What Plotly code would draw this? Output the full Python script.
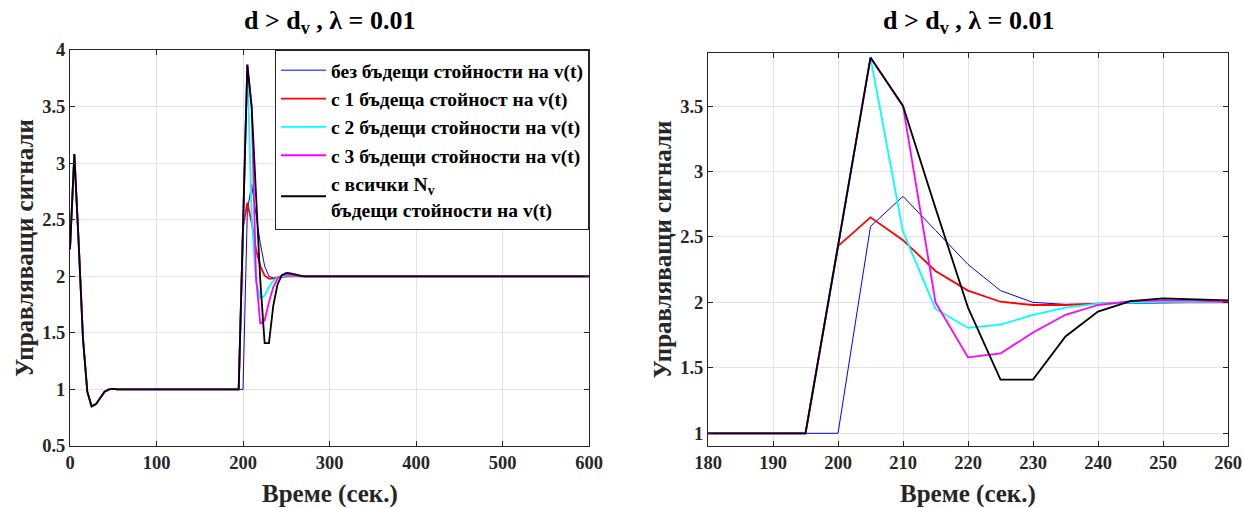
import plotly.graph_objects as go

# time (s); dense around the transients, sparse where the signals are flat
t = [0, 5, 10, 15, 20, 25, 30, 35, 40, 45, 50, 55, 60, 100, 150,
     180, 185, 190, 195, 200, 205, 210, 215, 220, 225, 230, 235, 240,
     245, 250, 255, 260, 265, 270, 280, 300, 400, 500, 600]

start = [2.24, 3.08, 2.30, 1.45, 0.98, 0.85, 0.87, 0.93, 0.98, 1.00,
         1.005, 1.00, 1.00, 1.00, 1.00, 1.00, 1.00, 1.00, 1.00]

blue_tail = [1.00, 2.58, 2.81, 2.55, 2.29, 2.09, 2.00, 1.985, 1.99, 1.99,
             2.00, 2.00, 2.00, 2.00, 2.00, 2.00, 2.00, 2.00, 2.00, 2.00]
red_tail = [2.43, 2.65, 2.475, 2.24, 2.09, 2.005, 1.98, 1.98, 1.99, 2.00,
            2.00, 2.00, 2.00, 2.00, 2.00, 2.00, 2.00, 2.00, 2.00, 2.00]
cyan_tail = [2.43, 3.87, 2.54, 1.95, 1.805, 1.83, 1.905, 1.96, 1.99, 2.00,
             2.005, 2.005, 2.00, 2.00, 2.00, 2.00, 2.00, 2.00, 2.00, 2.00]
mag_tail = [2.43, 3.87, 3.50, 2.00, 1.58, 1.61, 1.77, 1.905, 1.98, 2.01,
            2.015, 2.015, 2.005, 2.00, 2.00, 2.00, 2.00, 2.00, 2.00, 2.00]
black_tail = [2.43, 3.87, 3.50, 2.72, 1.96, 1.41, 1.41, 1.74, 1.93, 2.01,
              2.03, 2.025, 2.015, 2.005, 2.00, 2.00, 2.00, 2.00, 2.00, 2.00]

names = ["без бъдещи стойности на v(t)",
         "с 1 бъдеща стойност на v(t)",
         "с 2 бъдещи стойности на v(t)",
         "с 3 бъдещи стойности на v(t)",
         "с всички N<sub>v</sub><br>бъдещи стойности на v(t)"]
tails = [blue_tail, red_tail, cyan_tail, mag_tail, black_tail]
colors = ["#0000FF", "#FF0000", "#00FFFF", "#FF00FF", "#000000"]
widths = [1.0, 1.8, 1.8, 1.8, 1.8]

FONT = "Liberation Serif, Times New Roman, serif"
AX = "#262626"

fig = go.Figure()
for name, tail, c, w in zip(names, tails, colors, widths):
    fig.add_trace(go.Scatter(x=t, y=start + tail, mode="lines", name=name,
                             line=dict(color=c, width=w),
                             xaxis="x", yaxis="y"))
for name, tail, c, w in zip(names, tails, colors, widths):
    fig.add_trace(go.Scatter(x=t, y=start + tail, mode="lines", name=name,
                             line=dict(color=c, width=w), showlegend=False,
                             xaxis="x2", yaxis="y2"))

W, H = 1243, 508
L1, R1, T1, B1 = 70, 589, 50, 446
L2, R2, T2, B2 = 708, 1228, 53, 446

fig.update_layout(
    width=W, height=H,
    margin=dict(l=0, r=0, t=0, b=0, autoexpand=False),
    plot_bgcolor="white", paper_bgcolor="white",
    font=dict(family=FONT, color=AX),
    xaxis=dict(domain=[L1 / W, R1 / W], anchor="y", range=[0, 600],
               tickvals=[0, 100, 200, 300, 400, 500, 600]),
    yaxis=dict(domain=[1 - B1 / H, 1 - T1 / H], anchor="x", range=[0.5, 4],
               tickvals=[0.5, 1, 1.5, 2, 2.5, 3, 3.5, 4]),
    xaxis2=dict(domain=[L2 / W, R2 / W], anchor="y2", range=[180, 260],
                tickvals=[180, 190, 200, 210, 220, 230, 240, 250, 260]),
    yaxis2=dict(domain=[1 - B2 / H, 1 - T2 / H], anchor="x2", range=[0.903, 3.905],
                tickvals=[1, 1.5, 2, 2.5, 3, 3.5]),
    showlegend=True,
    legend=dict(x=R1 / W, y=1 - T1 / H, xanchor="right", yanchor="top",
                bgcolor="white", bordercolor=AX, borderwidth=1,
                font=dict(family=FONT, size=19.5, color="#000000", weight="bold"),
                itemwidth=45, tracegroupgap=0),
)
for upd in (fig.update_xaxes, fig.update_yaxes):
    upd(showline=True, linecolor=AX, linewidth=1, mirror="ticks",
        ticks="inside", ticklen=5, tickcolor=AX, tickwidth=1,
        showgrid=True, gridcolor="#e3e3e3", gridwidth=1,
        zeroline=False, automargin=False,
        tickfont=dict(family=FONT, size=18.5, color=AX, weight="bold"))

title = "d > d<sub>v</sub> , λ = 0.01"
tfont = dict(family=FONT, size=26, color="#000000", weight="bold")
afont = dict(family=FONT, size=25, color=AX, weight="bold")
ann = []
for L, R, T, B, yx in [(L1, R1, T1, B1, 24), (L2, R2, T2, B2, 662)]:
    cx = (L + R) / 2 / W
    ann.append(dict(text=title, x=cx, y=1 - 22 / H, xref="paper", yref="paper",
                    showarrow=False, font=tfont, xanchor="center", yanchor="middle"))
    ann.append(dict(text="Време (сек.)", x=cx, y=1 - 494 / H, xref="paper", yref="paper",
                    showarrow=False, font=afont, xanchor="center", yanchor="middle"))
    ann.append(dict(text="Управляващи сигнали", x=yx / W, y=1 - (T + B) / 2 / H,
                    xref="paper", yref="paper", showarrow=False, font=afont,
                    textangle=-90, xanchor="center", yanchor="middle"))
fig.update_layout(annotations=ann)

fig.write_html("out.html")
